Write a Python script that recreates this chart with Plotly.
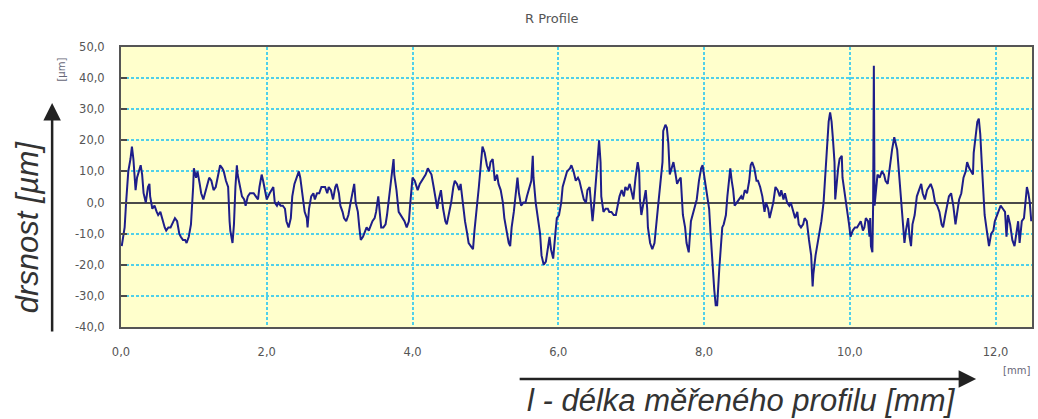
import plotly.graph_objects as go

# ---------------- data ----------------
x_mm = [
    0.01, 0.05, 0.07, 0.10, 0.13, 0.15, 0.17, 0.19, 0.20, 0.22, 0.25, 0.27, 0.29, 0.31, 0.34, 0.37,
    0.39, 0.40, 0.43, 0.46, 0.49, 0.51, 0.54, 0.57, 0.60, 0.62, 0.65, 0.68, 0.70, 0.74, 0.77, 0.80,
    0.82, 0.85, 0.88, 0.90, 0.93, 0.96, 0.99, 1.00, 1.03, 1.05, 1.08, 1.10, 1.13, 1.16, 1.19, 1.21,
    1.24, 1.27, 1.30, 1.31, 1.34, 1.36, 1.39, 1.41, 1.44, 1.47, 1.49, 1.50, 1.53, 1.55, 1.57, 1.59,
    1.60, 1.63, 1.66, 1.69, 1.71, 1.74, 1.77, 1.80, 1.82, 1.85, 1.88, 1.90, 1.93, 1.95, 1.98,
    2.00, 2.04, 2.06, 2.09, 2.11, 2.14, 2.16, 2.19, 2.22, 2.25, 2.27, 2.30, 2.33, 2.35, 2.38, 2.41,
    2.44, 2.46, 2.49, 2.52, 2.55, 2.56, 2.58, 2.61, 2.64, 2.66, 2.69, 2.72, 2.75, 2.77, 2.80, 2.83,
    2.85, 2.88, 2.91, 2.94, 2.96, 2.99, 3.01, 3.04, 3.06, 3.09, 3.12, 3.15, 3.17, 3.20, 3.22, 3.25,
    3.27, 3.29, 3.32, 3.35, 3.37, 3.40, 3.43, 3.45, 3.48, 3.50, 3.53, 3.55, 3.57, 3.60, 3.63, 3.65,
    3.68, 3.71, 3.74, 3.75, 3.78, 3.81, 3.84, 3.86, 3.89, 3.92, 3.95, 3.97, 4.00, 4.03,
    4.05, 4.07, 4.10, 4.13, 4.16, 4.18, 4.21, 4.24, 4.26, 4.29, 4.32, 4.34, 4.36, 4.39, 4.42, 4.45,
    4.47, 4.50, 4.53, 4.56, 4.58, 4.61, 4.64, 4.66, 4.69, 4.72, 4.75, 4.77, 4.80, 4.83, 4.85, 4.88,
    4.91, 4.94, 4.96, 4.99, 5.02, 5.05, 5.07, 5.10, 5.13, 5.16, 5.18, 5.21, 5.24, 5.26, 5.29, 5.32,
    5.34, 5.36, 5.39, 5.42, 5.44, 5.46, 5.49, 5.52, 5.55, 5.57, 5.60, 5.63, 5.65, 5.66, 5.69, 5.72,
    5.75, 5.77, 5.80, 5.83, 5.85, 5.88, 5.90, 5.93, 5.96, 5.98, 6.01, 6.04, 6.06, 6.09,
    6.12, 6.16, 6.18, 6.21, 6.24, 6.27, 6.29, 6.32, 6.35, 6.38, 6.40, 6.43, 6.45, 6.47, 6.49, 6.51,
    6.53, 6.56, 6.58, 6.59, 6.62, 6.65, 6.68, 6.70, 6.73, 6.76, 6.79, 6.81, 6.84, 6.87, 6.90, 6.92,
    6.95, 6.98, 7.01, 7.03, 7.06, 7.09, 7.11, 7.12, 7.14, 7.17, 7.20, 7.22, 7.23, 7.26, 7.29, 7.32,
    7.34, 7.37, 7.40, 7.43, 7.44, 7.47, 7.49, 7.51, 7.53, 7.55, 7.58, 7.61, 7.63, 7.65, 7.68, 7.71,
    7.74, 7.76, 7.79, 7.82, 7.85, 7.87, 7.90, 7.93, 7.96, 7.98, 8.01, 8.04, 8.07, 8.09, 8.11, 8.14,
    8.16, 8.18,
    8.21, 8.23, 8.25, 8.27, 8.30, 8.32, 8.34, 8.36, 8.38, 8.40, 8.42, 8.45, 8.48, 8.51, 8.53, 8.56,
    8.59, 8.62, 8.64, 8.66, 8.69, 8.72, 8.74, 8.77, 8.80, 8.83, 8.85, 8.88, 8.90, 8.93, 8.95, 8.98,
    9.01, 9.04, 9.06, 9.09, 9.11, 9.14, 9.17, 9.19, 9.22, 9.25, 9.28, 9.30, 9.33, 9.36, 9.38, 9.41,
    9.44, 9.47, 9.49, 9.50, 9.53, 9.56, 9.59, 9.61, 9.64, 9.67, 9.69, 9.71, 9.73, 9.75, 9.77, 9.79,
    9.80, 9.82, 9.84, 9.86, 9.89, 9.90, 9.93, 9.96, 9.99, 10.01, 10.04, 10.07, 10.10, 10.12, 10.15,
    10.18, 10.20, 10.22, 10.25,
    10.27, 10.28, 10.29, 10.31, 10.32, 10.33, 10.34, 10.36, 10.38, 10.41, 10.44, 10.47, 10.49, 10.52,
    10.55, 10.58, 10.61, 10.62, 10.65, 10.68, 10.71, 10.73, 10.75, 10.77, 10.80, 10.82, 10.84, 10.86,
    10.89, 10.92, 10.95, 10.98, 11.00, 11.03, 11.06, 11.09, 11.11, 11.14, 11.17, 11.20, 11.23, 11.26,
    11.28, 11.31, 11.34, 11.36, 11.39, 11.42, 11.45, 11.48, 11.50, 11.53, 11.56, 11.59, 11.61, 11.64,
    11.67, 11.69, 11.70, 11.73, 11.75, 11.77, 11.79, 11.81, 11.83, 11.85, 11.88, 11.91, 11.94, 11.97,
    11.99, 12.02, 12.05, 12.07, 12.10, 12.13, 12.15, 12.17, 12.20, 12.23, 12.26, 12.28, 12.31, 12.33,
    12.36, 12.39, 12.41, 12.43, 12.45, 12.47, 12.49,
]

r_um = [
    -14, -8, 0, 10, 14, 18, 14, 9, 4, 8, 11, 12, 9, 3, 0, 5,
    6, 2, -2, -1, -3, -4, -3, -6, -8, -9, -8, -8, -7, -5, -6, -10,
    -11, -12, -12, -13, -11, -7, 5, 11, 8, 10, 6, 3, 1, 4, 6, 8,
    7, 4, 5, 6, 10, 12, 11, 10, 7, 5, -6, -9, -13, -7, 5, 12,
    9, 5, 2, 1, -1, 2, 3, 3, 3, 2, 1, 5, 9, 7, 3,
    1, 3, 4, 5, 0, -1, 0, -1, -1, -2, -6, -8, -5, 2, 6, 8,
    10, 8, 2, -3, -5, -8, -2, 2, 3, 1, 3, 3, 5, 5, 5, 3,
    5, 4, 1, 5, 6, 3, -1, -3, -5, -6, -4, 0, 2, 6, 0, -3,
    -8, -12, -11, -9, -8, -9, -7, -6, -5, -3, 2, -4, -8, -8, -7, -4,
    2, 8, 14, 9, 4, -3, -4, -5, -6, -8, -6, 0, 8, 7,
    5, 4, 6, 7, 8, 9, 11, 10, 9, 5, 0, -2, 1, 4, -2, -6,
    -7, -4, 0, 5, 7, 6, 4, 6, -1, -6, -10, -13, -14, -15, -9, -3,
    5, 13, 18, 16, 12, 10, 13, 14, 7, 9, 6, 4, 0, -5, -9, -13,
    -14, -8, -3, 5, 8, 3, -1, 0, 0, 2, 5, 7, 15, 8, 0, -5,
    -10, -17, -20, -19, -15, -11, -15, -18, -10, -5, -4, 0, 5, 8,
    10, 11, 12, 10, 7, 8, 7, 4, 1, 0, 4, 5, -2, -6, -1, 6,
    13, 20, 13, 2, -3, -2, -2, -3, -3, -4, -4, -1, 2, 4, 2, 5,
    4, 6, 3, 1, 8, 13, 10, 1, -4, 0, 4, -2, -8, -13, -15, -13,
    -7, -1, 6, 13, 23, 25, 24, 19, 9, 11, 13, 9, 6, 7, 8, -4,
    -8, -13, -16, -6, -3, -2, 1, 7, 11, 12, 7, 2, -2, -10, -19, -28,
    -33, -33,
    -21, -14, -8, -7, -4, 2, 8, 11, 7, 4, -1, 0, 1, 2, 1, 4,
    3, 7, 12, 13, 11, 7, 7, 5, 2, -3, 0, -2, -5, -2, 0, 5,
    4, 2, 4, 1, 3, 0, -1, 0, -3, -5, -3, -7, -8, -7, -5, -6,
    -12, -17, -27, -23, -17, -13, -10, -6, 0, 10, 20, 26, 29, 26, 20, 13,
    1, 7, 11, 14, 15, 8, 2, -2, -7, -11, -9, -8, -8, -7, -6,
    -9, -8, -5, -6,
    -11, -5, -14, -16, -1, 44, -1, 4, 9, 8, 10, 9, 7, 6,
    12, 17, 21, 20, 17, 8, 0, -7, -13, -9, -5, -11, -14, -7,
    -4, 2, 4, 6, 3, 1, 4, 5, 6, 4, 0, -1, -3, -7,
    -8, -4, 0, 2, 3, -1, -7, -2, 1, 3, 8, 10, 13, 11,
    10, 9, 16, 21, 26, 27, 22, 13, 2, -4, -9, -14, -10, -9,
    -6, -4, -2, -1, -2, -3, -11, -4, -7, -12, -14, -10, -6, -13,
    -6, -5, 0, 5, 3, 0, -6,
]

x_tick_vals = [0, 2, 4, 6, 8, 10, 12]
x_tick_labels = ["0,0", "2,0", "4,0", "6,0", "8,0", "10,0", "12,0"]
y_tick_vals = [-40, -30, -20, -10, 0, 10, 20, 30, 40, 50]
y_tick_labels = ["-40,0", "-30,0", "-20,0", "-10,0", "0,0", "10,0", "20,0", "30,0", "40,0", "50,0"]

chart_title = "R Profile"
y_title = "drsnost [µm]"
x_title = "l - délka měřeného profilu [mm]"
y_unit = "[µm]"
x_unit = "[mm]"

# ---------------- figure ----------------
fig = go.Figure()
fig.add_trace(go.Scatter(
    x=x_mm, y=r_um, mode="lines",
    line=dict(color="#1e1e8a", width=2),
    hoverinfo="skip", showlegend=False,
))

grid_col = "#4fd0ea"
tick_font = dict(family="DejaVu Sans", size=11.5, color="#555555")

fig.update_layout(
    width=1038, height=419,
    margin=dict(l=121, r=4, t=47, b=92),
    paper_bgcolor="white",
    plot_bgcolor="#ffffcc",
    showlegend=False,
    xaxis=dict(
        range=[0, 12.5], tickvals=x_tick_vals, ticktext=x_tick_labels,
        showgrid=True, gridcolor=grid_col, griddash="3px,2px", gridwidth=1.5,
        zeroline=False, showline=True, mirror=True, linecolor="#555555", linewidth=2,
        ticks="", ticklabelstandoff=13, tickfont=tick_font,
    ),
    yaxis=dict(
        range=[-40, 50], tickvals=y_tick_vals, ticktext=y_tick_labels,
        showgrid=True, gridcolor=grid_col, griddash="3px,2px", gridwidth=1.5,
        zeroline=True, zerolinecolor="#4a4a4a", zerolinewidth=1.8,
        showline=True, mirror=True, linecolor="#555555", linewidth=2,
        ticks="inside", ticklen=6, tickwidth=1.5, tickcolor="#4a4a4a",
        ticklabelstandoff=12, tickfont=tick_font,
    ),
)

ann = []
ann.append(dict(text=chart_title, xref="paper", yref="paper", x=0.473, y=1.1,
                xanchor="center", yanchor="middle", showarrow=False,
                font=dict(family="DejaVu Sans", size=13, color="#555555")))
ann.append(dict(text=y_title, xref="paper", yref="paper", x=-0.103, y=0.357,
                xanchor="center", yanchor="middle", showarrow=False, textangle=-90,
                font=dict(family="Liberation Sans", size=31, color="#333333", style="italic")))
ann.append(dict(text=x_title, xref="paper", yref="paper", x=0.681, y=-0.262,
                xanchor="center", yanchor="middle", showarrow=False,
                font=dict(family="Liberation Sans", size=31, color="#333333", style="italic")))
ann.append(dict(text=y_unit, xref="paper", yref="paper", x=-0.0652, y=0.918,
                xanchor="center", yanchor="middle", showarrow=False, textangle=-90,
                font=dict(family="DejaVu Sans", size=10, color="#666677")))
ann.append(dict(text=x_unit, xref="paper", yref="paper", x=0.9825, y=-0.1536,
                xanchor="center", yanchor="middle", showarrow=False,
                font=dict(family="DejaVu Sans", size=10, color="#666677")))
# vertical arrow
ann.append(dict(text="", xref="paper", yref="paper", x=-0.0756, y=0.80,
                ax=0, ay=230, showarrow=True, arrowhead=2, arrowsize=1.4,
                arrowwidth=2.5, arrowcolor="#222222"))
# horizontal arrow
ann.append(dict(text="", xref="paper", yref="paper", x=0.9387, y=-0.1857,
                ax=-458, ay=0, showarrow=True, arrowhead=2, arrowsize=1.4,
                arrowwidth=2.5, arrowcolor="#222222"))
fig.update_layout(annotations=ann)

fig.write_html("out.html")
